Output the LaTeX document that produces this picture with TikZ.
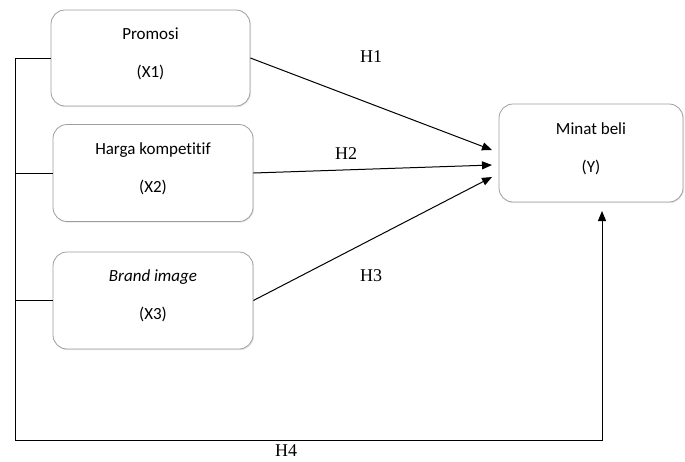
\documentclass[tikz,border=0pt]{standalone}
\usepackage{fontspec}
\setmainfont{Liberation Serif}
\newfontfamily\boxfont[Ligatures=NoCommon]{Carlito}
\usepackage{xcolor}
\usepackage{tikz}
\usetikzlibrary{arrows.meta}
\usetikzlibrary{shadows}
\definecolor{boxline}{rgb}{0.62,0.62,0.62}

\begin{document}
\begin{tikzpicture}[
  x=1pt, y=-1pt,
  var/.style={rectangle, rounded corners=14pt, draw=boxline, fill=white,
    line width=0.8pt, align=center, inner sep=0pt, text depth=11pt,
    drop shadow={opacity=0.18, shadow xshift=1pt, shadow yshift=-1.2pt},
    font=\boxfont\fontsize{17}{20}\selectfont},
  hyp/.style={anchor=base, inner sep=0pt, font=\fontsize{18}{21}\selectfont},
  link/.style={line width=1pt},
  arr/.style={link, -{Triangle[length=10pt,width=8pt]}}]
  \useasboundingbox (0,0) rectangle (685,461);
  % variables
  \node[var, minimum width=199pt, minimum height=96pt] (x1) at (150.5,58)
    {Promosi\\[18pt](X1)};
  \node[var, minimum width=200pt, minimum height=97pt] (x2) at (153,173)
    {Harga kompetitif\\[18pt](X2)};
  \node[var, minimum width=200pt, minimum height=97pt] (x3) at (153,300.5)
    {\textit{Brand image}\\[18pt](X3)};
  \node[var, minimum width=184pt, minimum height=98pt] (y) at (591,153)
    {Minat beli\\[18pt](Y)};
  % arrow ends
  \coordinate (t1) at (492,150);
  \coordinate (t2) at (492,165);
  \coordinate (t3) at (492,177);
  \coordinate (lt) at (15,58);
  \coordinate (lb) at (15,440);
  \coordinate (t4) at (602,211);
  % hypotheses
  \draw[arr] (x1.east) -- (t1);
  \draw[arr] (x2.east) -- (t2);
  \draw[arr] (x3.east) -- (t3);
  \draw[link] (x1.west) -- (lt) -- (lb);
  \draw[link] (x2.west) -- (x2.west -| lt);
  \draw[link] (x3.west) -- (x3.west -| lt);
  \draw[arr] (lb) -| (t4);
  \node[hyp] (h1) at (371,62.5) {H1};
  \node[hyp] (h2) at (346,159) {H2};
  \node[hyp] (h3) at (371,281) {H3};
  \node[hyp] (h4) at (286,456) {H4};
\end{tikzpicture}
\end{document}
